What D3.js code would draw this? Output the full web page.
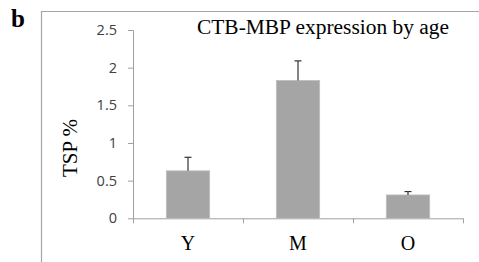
<!DOCTYPE html>
<html>
<head>
<meta charset="utf-8">
<script src="https://cdn.jsdelivr.net/npm/d3@7"></script>
<style>
body { margin: 0; background: #fff; }
svg { display: block; }
</style>
</head>
<body>
<div id="chart"></div>
<script>
// data
var groups = ['Y', 'M', 'O'];
var means = [0.63, 1.83, 0.31];
var errors = [0.18, 0.26, 0.045];
var yTicks = [0, 0.5, 1, 1.5, 2, 2.5];

var width = 479, height = 262;
var svg = d3.select('#chart').append('svg')
	.attr('width', width)
	.attr('height', height);

// panel frame (top + left lines)
svg.append('line').attr('x1', 41).attr('x2', width).attr('y1', 11.5).attr('y2', 11.5)
	.attr('stroke', '#a6a6a6').attr('stroke-width', 1.2);
svg.append('line').attr('x1', 41.5).attr('x2', 41.5).attr('y1', 11).attr('y2', height)
	.attr('stroke', '#a6a6a6').attr('stroke-width', 1.2);

svg.append('text').text('b')
	.attr('x', 11).attr('y', 27)
	.style('font-family', '"Liberation Serif", serif')
	.style('font-weight', 'bold')
	.style('font-size', '25px');

var margin = {left: 133, top: 30, right: 16};
var plotW = 463 - margin.left;
var plotH = 218.3 - margin.top;

var g = svg.append('g').attr('transform', 'translate(' + margin.left + ',' + margin.top + ')');

var x = d3.scaleBand().domain(groups).range([0, plotW]).paddingInner(0.606).paddingOuter(0.303);
var y = d3.scaleLinear().domain([0, 2.5]).range([plotH, 0]);

// y axis
var yAxis = g.append('g')
	.call(d3.axisLeft(y).tickValues(yTicks).tickSize(5).tickPadding(11)
		.tickFormat(function (d) { return d; }));
yAxis.select('.domain').attr('stroke', '#a0a0a0').attr('d', 'M-5,0.5H0.5V' + plotH);
yAxis.selectAll('line').attr('stroke', '#a0a0a0');
yAxis.selectAll('text')
	.style('font-family', '"Open Sans", sans-serif')
	.style('font-size', '14.5px')
	.attr('fill', '#404040');

// x axis with ticks between groups
var xAxis = g.append('g').attr('transform', 'translate(0,' + plotH + ')');
xAxis.append('line').attr('x1', 0).attr('x2', plotW).attr('y1', 0.5).attr('y2', 0.5)
	.attr('stroke', '#a0a0a0');
var step = x.step();
xAxis.selectAll('.xt').data(d3.range(groups.length + 1)).enter()
	.append('line')
	.attr('x1', function (i) { return i * step + 0.5; })
	.attr('x2', function (i) { return i * step + 0.5; })
	.attr('y1', 0).attr('y2', 5)
	.attr('stroke', '#a0a0a0');
xAxis.selectAll('.xl').data(groups).enter()
	.append('text')
	.attr('x', function (d) { return x(d) + x.bandwidth() / 2; })
	.attr('y', 32)
	.attr('text-anchor', 'middle')
	.style('font-family', '"Liberation Serif", serif')
	.style('font-size', '20px')
	.text(function (d) { return d; });

// bars
g.selectAll('.bar').data(groups).enter()
	.append('rect')
	.attr('x', function (d) { return x(d); })
	.attr('y', function (d, i) { return y(means[i]); })
	.attr('width', x.bandwidth())
	.attr('height', function (d, i) { return plotH - y(means[i]); })
	.attr('fill', '#a5a5a5')
	.attr('stroke', '#bdbdbd')
	.attr('stroke-width', 0.8);

// error bars (upper only)
var eb = g.selectAll('.err').data(groups).enter().append('g');
eb.append('line')
	.attr('x1', function (d) { return x(d) + x.bandwidth() / 2; })
	.attr('x2', function (d) { return x(d) + x.bandwidth() / 2; })
	.attr('y1', function (d, i) { return y(means[i]); })
	.attr('y2', function (d, i) { return y(means[i] + errors[i]); })
	.attr('stroke', '#333').attr('stroke-width', 1.2);
eb.append('line')
	.attr('x1', function (d) { return x(d) + x.bandwidth() / 2 - 3.5; })
	.attr('x2', function (d) { return x(d) + x.bandwidth() / 2 + 3.5; })
	.attr('y1', function (d, i) { return y(means[i] + errors[i]); })
	.attr('y2', function (d, i) { return y(means[i] + errors[i]); })
	.attr('stroke', '#333').attr('stroke-width', 1.2);

// title
svg.append('text').text('CTB-MBP expression by age')
	.attr('x', 197).attr('y', 34)
	.attr('textLength', 252)
	.attr('lengthAdjust', 'spacingAndGlyphs')
	.style('font-family', '"Liberation Serif", serif')
	.style('font-size', '20px');

// y axis title
svg.append('text').text('TSP %')
	.attr('transform', 'translate(77,148) rotate(-90)')
	.attr('text-anchor', 'middle')
	.style('font-family', '"Liberation Serif", serif')
	.style('font-size', '21px');
</script>
</body>
</html>
